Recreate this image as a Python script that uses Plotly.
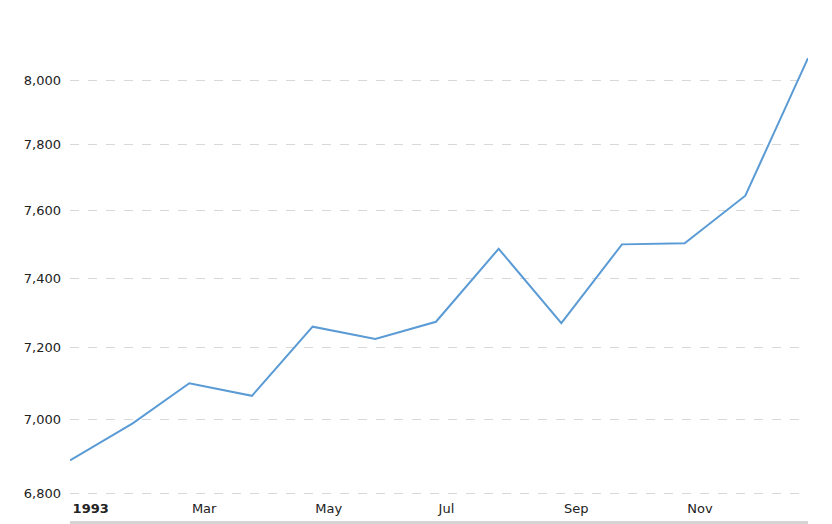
import math
import plotly.graph_objects as go

# Data (monthly, first of month)
dates = ["1993-01-01", "1993-02-01", "1993-03-01", "1993-04-01", "1993-05-01",
         "1993-06-01", "1993-07-01", "1993-08-01", "1993-09-01", "1993-10-01",
         "1993-11-01", "1993-12-01", "1994-01-01"]
values = [6888, 6989, 7100, 7065, 7260, 7225, 7274, 7486, 7270, 7499, 7502, 7644, 8069]

x_tick_vals = ["1993-01-01", "1993-03-01", "1993-05-01", "1993-07-01", "1993-09-01", "1993-11-01"]
x_tick_text = ["<b>1993</b>", "Mar", "May", "Jul", "Sep", "Nov"]
y_tick_vals = [6800, 7000, 7200, 7400, 7600, 7800, 8000]
y_tick_text = ["6,800", "7,000", "7,200", "7,400", "7,600", "7,800", "8,000"]

W, H = 832, 524
# page body has an 8px margin, so offsets are compensated here
m_l, m_r, m_t, m_b = 62, 32, 32, 37
plot_h = H - m_t - m_b
px_per_decade = 5851.0
y_lo = math.log10(6800) - 2.0 / px_per_decade
y_hi = y_lo + plot_h / px_per_decade
plot_bottom_screen = 495

fig = go.Figure()
fig.add_trace(go.Scatter(
    x=dates, y=values, mode="lines",
    line=dict(color="#5b9bd5", width=2),
    hoverinfo="x+y",
))

fig.update_layout(
    width=W, height=H,
    margin=dict(l=m_l, r=m_r, t=m_t, b=m_b),
    paper_bgcolor="white", plot_bgcolor="white",
    showlegend=False,
    font=dict(family="DejaVu Sans, Verdana, sans-serif", size=13, color="#333333"),
    xaxis=dict(
        type="date",
        range=[dates[0], dates[-1]],
        tickvals=x_tick_vals,
        ticktext=["\u2009" + t for t in x_tick_text],
        showgrid=False, zeroline=False, showline=False,
        ticks="", ticklabelposition="outside right",
        ticklabelstandoff=4,
        tickfont=dict(size=13, color="#222222"),
    ),
    yaxis=dict(
        type="log",
        range=[y_lo, y_hi],
        tickvals=y_tick_vals, ticktext=y_tick_text,
        showgrid=True, gridcolor="#d8d8d8", griddash="dash", gridwidth=1,
        zeroline=False, showline=False, ticks="",
        ticklabelstandoff=8,
        tickfont=dict(size=13, color="#222222"),
    ),
)

# navigator strip under the axis
fig.add_shape(type="rect", xref="paper", yref="paper",
              x0=0, x1=1,
              y0=(plot_bottom_screen - 527) / plot_h,
              y1=(plot_bottom_screen - 521) / plot_h,
              fillcolor="#d4d4d4", line=dict(width=0), layer="below")

fig.write_html("out.html")
